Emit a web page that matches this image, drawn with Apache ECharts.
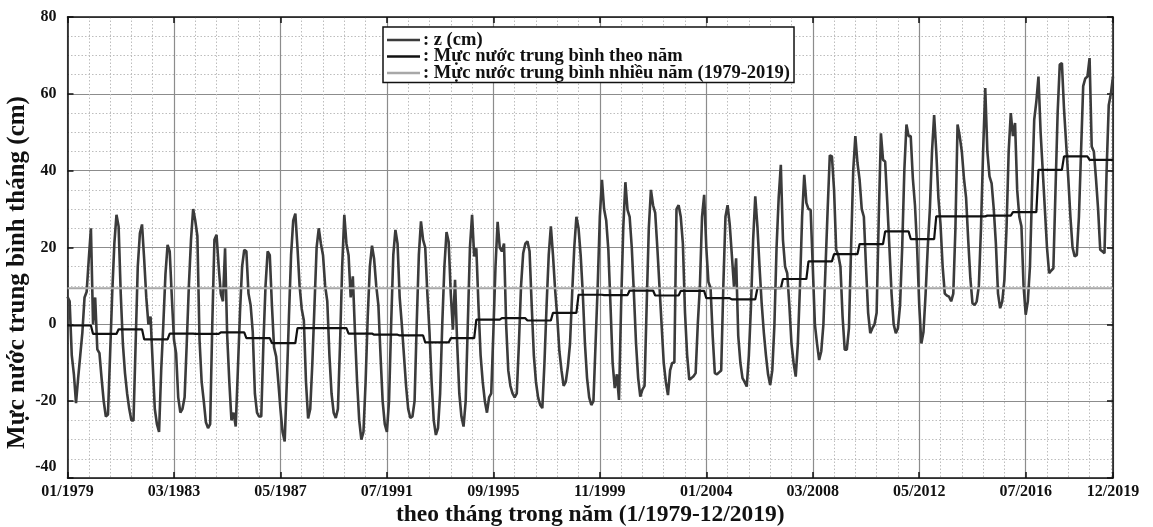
<!DOCTYPE html>
<html>
<head>
<meta charset="utf-8">
<title>Mực nước trung bình tháng 1979-2019</title>
<script src="https://cdn.jsdelivr.net/npm/echarts@6.0.0/dist/echarts.min.js"></script>
<style>
  html, body { margin: 0; padding: 0; background: #fff; }
  #chart { width: 1153px; height: 527px; }
</style>
</head>
<body>
<div id="chart"></div>
<script>
const FONT = "'Liberation Serif', 'Times New Roman', serif"

const seriesNames = [
  'z (cm)',
  'Mực nước trung bình theo năm',
  'Mực nước trung bình nhiều năm (1979-2019)'
]

// x ticks are month indexes counted from 01/1979
const tickValues = [0, 50, 100, 150, 200, 250, 300, 350, 400, 450, 491]
const tickLabels = ['01/1979', '03/1983', '05/1987', '07/1991', '09/1995', '11/1999',
  '01/2004', '03/2008', '05/2012', '07/2016', '12/2019']

// monthly mean water level (cm), one row per year, Jan..Dec
const zMonthly = [
  7.2, 6, -8, -13, -20.5, -14, -8, -2, 7, 8.5, 17, 25, // 1979
  0, 7, -6.5, -7.5, -14, -20, -24, -23.5, -8, 8, 21, 28.5, // 1980
  25.5, 8, -5, -12.7, -18, -22, -25, -25, -5, 15, 23.7, 26, // 1981
  17, 7, 0, 2, -10, -22, -26, -28, -12, 0, 13, 20.7, // 1982
  19, 7, -4, -7.5, -19, -23, -22, -19, -5, 10, 22, 30, // 1983
  27, 23, -4, -15, -20, -25.5, -27, -26, 0, 22, 23.3, 15, // 1984
  8, 6, 19.8, -3, -15, -25, -23, -26.6, -12, 3, 15, 19.4, // 1985
  19, 8, 5, -2, -18, -23, -24, -24, -5, 10, 19, 18, // 1986
  5, -6, -8.4, -15, -22, -28, -30.5, -15, 2, 18, 27, 28.8, // 1987
  20, 10, 4, 1, -15, -24.5, -22, -10, 5, 20, 25, 21, // 1988
  18, 10, 6, -8, -18, -23, -24.4, -22, -5, 15, 28.5, 21, // 1989
  18, 7, 12.5, -2, -15, -25, -30, -28, -15, 2, 15, 20.5, // 1990
  17, 10, 5, -8, -20, -26, -28, -20, 0, 18, 24.6, 21, // 1991
  7, 0, -8, -16, -22, -24.4, -24, -20, 0, 18, 26.8, 22, // 1992
  20, 8, -2, -15, -25, -28.8, -27, -18, 0, 15, 24, 21.5, // 1993
  8, -1.4, 11.6, -5, -18, -24, -26.6, -20, 0, 20, 28.5, 17.7, // 1994
  19.8, 5, -8, -15, -20, -23, -19, -18, -2, 15, 26.7, 20, // 1995
  19, 21, 0, -12, -16, -18, -19, -18, -5, 10, 18.5, 21, // 1996
  21.6, 19, 5, -8, -15, -19, -21, -21.8, -10, 5, 18, 25.5, // 1997
  18, 9, 2, -7, -12, -16, -15, -11, -5, 8, 20, 28, // 1998
  25, 18, 8, -5, -14, -19, -21, -20, -5, 10, 28, 37.6, // 1999
  30, 27, 19.4, 5, -10, -16.6, -13, -19.7, 5, 25, 37, 29.8, // 2000
  28, 20, 8, -5, -14, -18.8, -17, -16, 5, 25, 35, 31, // 2001
  29, 20, 10, 0, -10, -15, -18.4, -12, -10, -10, 30, 31, // 2002
  28, 21, 3, -8, -14.4, -14, -13.5, -12.7, 0, 10, 28, 33.7, // 2003
  20, 11, 9.5, -3, -12.7, -13, -12.5, -12, 10, 28, 31, 26, // 2004
  18, 9.8, 17.2, -3, -10, -14, -15, -16.2, -8, 5, 22, 33.3, // 2005
  25.5, 15, 5.5, -2, -8, -13, -15.8, -12, 0, 20, 33, 41.5, // 2006
  22, 15, 13.3, 5, -5, -10, -13.6, -5, 10, 28, 38.9, 31.6, // 2007
  30, 29.8, 15, 0, -5, -9.3, -7, 0, 15, 30, 44, 43.7, // 2008
  35, 19.4, 18, 15, 2, -6.6, -6.6, -1, 20, 40, 49, 42, // 2009
  37.6, 30, 28, 15, 3, -2.3, -1, 0, 3, 28, 49.7, 42.8, // 2010
  42.4, 31.6, 20, 8, 0, -2.3, -1, 5, 20, 40, 52, 49, // 2011
  49, 38, 31, 20, 5, -5, -2, 8, 20, 30, 45, 54.5, // 2012
  45, 33, 26, 15, 8, 7.5, 7.2, 6, 8, 25, 52, 49, // 2013
  45, 38, 33, 22, 12, 5.5, 5, 6, 10, 25, 45, 61.5, // 2014
  45, 38.5, 36.7, 30, 21, 8, 4.2, 6, 11.6, 25, 45, 55, // 2015
  49, 52.4, 35, 28, 25.5, 10, 2.5, 6, 15, 35, 53.2, 58, // 2016
  64.5, 50, 40, 30, 20, 13.3, 14, 14.6, 35, 55, 67.6, 68, // 2017
  56, 47, 38, 28, 20, 17.7, 18, 28, 45, 62, 64, 64.5, // 2018
  69.3, 46.3, 45, 38, 30, 19.4, 19, 18.5, 40, 57, 60, 64.5 // 2019
]

// annual mean (cm), 1979..2019
const annualMean = [
  -0.3, -2.5, -1.3, -3.9, -2.4, -2.5, -2.1, -3.6, -4.9, -1.0,
  -1.0, -2.4, -2.7, -2.9, -4.7, -3.6, 1.2, 1.6, 1.0, 3.0,
  7.7, 7.6, 8.8, 7.5, 8.7, 6.8, 6.5, 9.4, 11.8, 16.4,
  18.3, 20.9, 24.2, 22.2, 28.1, 28.1, 28.3, 29.2, 40.2, 43.7,
  42.8
]

// mean level 1979-2019 (cm)
const multiYearMean = 9.4

const lastIdx = zMonthly.length - 1
const zData = zMonthly.map((v, i) => [i, v])
const annualData = zMonthly.map((v, i) => [i, annualMean[Math.floor(i / 12)]])
const meanData = [[0, multiYearMean], [lastIdx, multiYearMean]]

const lineColors = ['#3b3b3b', '#111111', '#a8a8a8']

const textBold = { fontFamily: FONT, fontWeight: 'bold', color: '#111' }
const frameLine = { show: true, onZero: false, lineStyle: { color: '#111', width: 1.5 } }
const innerTick = { show: true, inside: true, length: 6, lineStyle: { color: '#111', width: 1.5 } }
const majorGrid = { show: true, lineStyle: { color: '#8c8c8c', width: 1.2 } }
const minorGrid = { show: true, lineStyle: { color: '#bdbdbd', width: 1, type: [1.5, 2] } }

const chart = echarts.init(document.getElementById('chart'), null, { renderer: 'canvas' })

chart.setOption({
  animation: false,
  backgroundColor: '#fff',
  grid: { left: 67.5, right: 40, top: 17, bottom: 49, outerBoundsMode: 'none', containLabel: false },
  legend: {
    data: seriesNames.map((n, i) => ({ name: n, icon: 'rect', itemStyle: { color: lineColors[i] } })),
    orient: 'vertical',
    left: 383,
    top: 27,
    itemWidth: 33,
    itemHeight: 2.5,
    itemGap: -2.5,
    padding: [3.5, 4, 0, 4],
    backgroundColor: '#fff',
    borderColor: '#111',
    borderWidth: 1.5,
    formatter: name => ': ' + name,
    textStyle: { ...textBold, fontSize: 18.5, padding: [0, 0, 0, -2] }
  },
  xAxis: [{
    type: 'value',
    min: 0,
    max: lastIdx,
    interval: 50,
    axisLine: frameLine,
    axisTick: innerTick,
    axisLabel: {
      ...textBold,
      fontSize: 16,
      margin: 6,
      showMinLabel: true,
      showMaxLabel: true,
      formatter: v => {
        const k = tickValues.indexOf(v)
        return k < 0 ? '' : tickLabels[k]
      }
    },
    splitLine: majorGrid,
    minorTick: { show: false, splitNumber: 5 },
    minorSplitLine: minorGrid,
    name: 'theo tháng trong năm (1/1979-12/2019)',
    nameLocation: 'middle',
    nameGap: 25,
    nameMoveOverlap: false,
    nameTextStyle: { ...textBold, fontSize: 23.5 }
  }, {
    type: 'value',
    position: 'top',
    min: 0,
    max: lastIdx,
    interval: 50,
    axisLine: frameLine,
    axisTick: innerTick,
    axisLabel: { show: false },
    splitLine: { show: false }
  }],
  yAxis: [{
    type: 'value',
    min: -40,
    max: 80,
    interval: 20,
    axisLine: frameLine,
    axisTick: innerTick,
    axisLabel: {
      ...textBold,
      fontSize: 16,
      margin: 11,
      formatter: v => (v === -40 ? '{low|-40}' : String(v)),
      rich: { low: { ...textBold, fontSize: 16, padding: [0, 0, 22, 0] } }
    },
    splitLine: majorGrid,
    minorTick: { show: false, splitNumber: 4 },
    minorSplitLine: minorGrid,
    name: 'Mực nước trung bình tháng (cm)',
    nameLocation: 'middle',
    nameRotate: 90,
    nameGap: 37,
    nameMoveOverlap: false,
    nameTextStyle: { ...textBold, fontSize: 25, padding: [0, 50, 0, 0] }
  }, {
    type: 'value',
    position: 'right',
    min: -40,
    max: 80,
    interval: 20,
    axisLine: frameLine,
    axisTick: innerTick,
    axisLabel: { show: false },
    splitLine: { show: false }
  }],
  series: [{
    name: seriesNames[0],
    type: 'line',
    data: zData,
    symbol: 'none',
    itemStyle: { color: lineColors[0] },
    lineStyle: { color: lineColors[0], width: 2.6 }
  }, {
    name: seriesNames[1],
    type: 'line',
    data: annualData,
    symbol: 'none',
    itemStyle: { color: lineColors[1] },
    lineStyle: { color: lineColors[1], width: 2.2 }
  }, {
    name: seriesNames[2],
    type: 'line',
    data: meanData,
    symbol: 'none',
    itemStyle: { color: lineColors[2] },
    lineStyle: { color: lineColors[2], width: 2 }
  }]
})
</script>
</body>
</html>
